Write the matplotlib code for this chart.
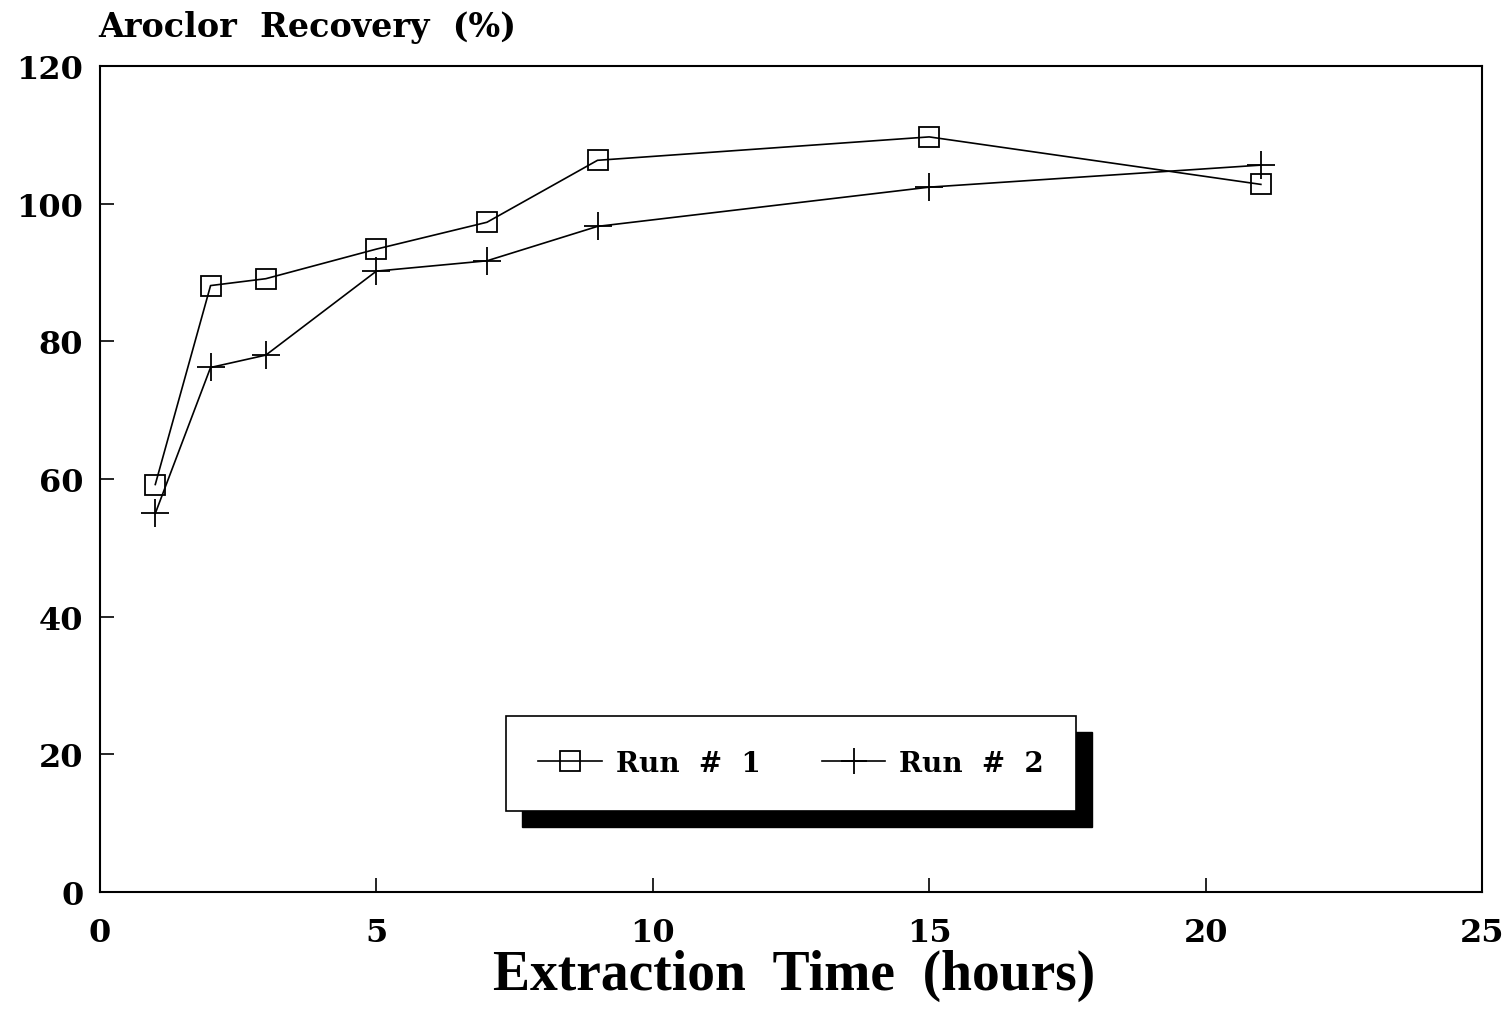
import matplotlib
matplotlib.use("Agg")
import matplotlib.pyplot as plt
from matplotlib.patches import Rectangle

# extraction time (hours) and Aroclor recovery (%)
hours = [1, 2, 3, 5, 7, 9, 15, 21]
run1 = [59.2, 88.1, 89.1, 93.4, 97.3, 106.3, 109.7, 102.8]
run2 = [55.0, 76.2, 78.0, 90.2, 91.7, 96.7, 102.4, 105.6]

x_ticks = [0, 5, 10, 15, 20, 25]
y_ticks = [0, 20, 40, 60, 80, 100, 120]

plt.rcParams['font.family'] = ['DejaVu Serif']
plt.rcParams['font.weight'] = 'bold'

fig = plt.figure(figsize=(15.12, 10.2), dpi=100)
ax = fig.add_axes([100 / 1512, 127 / 1020, 1382 / 1512, 826 / 1020])

ax.plot(hours, run1, color='black', lw=1.2, marker='s', markersize=15,
        markerfacecolor='none', markeredgewidth=1.3, label='Run  #  1')
ax.plot(hours, run2, color='black', lw=1.2, marker='+', markersize=20,
        markeredgewidth=1.3, label='Run  #  2')

ax.set_xlim(0, 25)
ax.set_ylim(0, 120)
ax.set_xticks(x_ticks)
ax.set_yticks(y_ticks)
ax.tick_params(direction='in', length=10, width=1.2, labelsize=23)
ax.tick_params(axis='x', pad=18)
ax.tick_params(axis='y', pad=12)
for lab in ax.get_xticklabels() + ax.get_yticklabels():
    lab.set_fontweight('bold')
for s in ax.spines.values():
    s.set_linewidth(1.5)

fig.text(98 / 1512, 1 - 37 / 1020, 'Aroclor  Recovery  (%)', fontsize=24,
         fontweight='bold', ha='left', va='baseline')
fig.text(794 / 1512, 1 - 990 / 1020, 'Extraction  Time  (hours)', fontsize=40,
         fontweight='bold', ha='center', va='baseline',
         family=['Liberation Serif', 'DejaVu Serif'])

# legend box with a solid drop shadow
bx0, bx1 = 506 / 1512, 1076 / 1512
by0, by1 = 1 - 812 / 1020, 1 - 717 / 1020
dx, dy = 16 / 1512, 16 / 1020
fig.patches.append(Rectangle((bx0 + dx, by0 - dy), bx1 - bx0, by1 - by0,
                             transform=fig.transFigure, facecolor='black',
                             edgecolor='black', zorder=5))
fig.patches.append(Rectangle((bx0, by0), bx1 - bx0, by1 - by0,
                             transform=fig.transFigure, facecolor='white',
                             edgecolor='black', lw=1.2, zorder=6))
leg = fig.legend(loc='center', bbox_to_anchor=((bx0 + bx1) / 2, (by0 + by1) / 2),
                 ncol=2, frameon=False, fontsize=20, handlelength=2.3,
                 columnspacing=2.2, handletextpad=0.5, markerscale=0.95)
leg.set_zorder(7)
for t in leg.get_texts():
    t.set_fontweight('bold')

fig.savefig('out.png', dpi=100, facecolor='white')
